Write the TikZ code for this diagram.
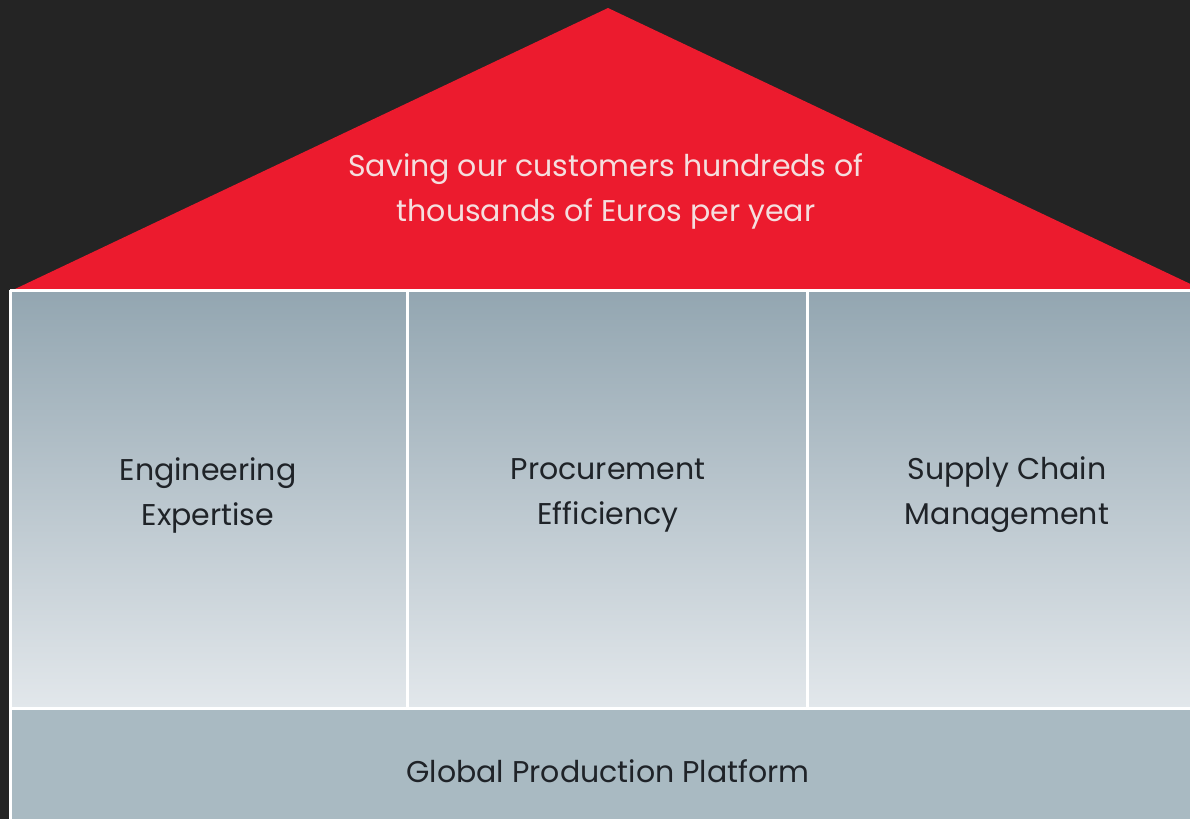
\documentclass[tikz,border=0pt]{standalone}
\usepackage{fontspec}
\setmainfont{Poppins}
\usepackage{tikz}
\definecolor{bgdark}{HTML}{242424}
\definecolor{roofred}{HTML}{EC1B2E}
\definecolor{pillartop}{HTML}{93A6B1}
\definecolor{pillarbot}{HTML}{E2E7EB}
\definecolor{basegray}{HTML}{A9BAC2}
\definecolor{labeldark}{HTML}{1F2328}
\definecolor{rooftext}{HTML}{F5DEDE}
\tikzset{
    pillar/.style={top color=pillartop,bottom color=pillarbot,draw=none},
    divider/.style={white,line width=1.5pt},
    label/.style={align=center,text=labeldark,font=\fontsize{15}{22.5}\selectfont,inner sep=0pt},
    every label/.append style={black}
}

\begin{document}
\begin{tikzpicture}[x=0.5pt,y=-0.5pt]
    \useasboundingbox (0,0) rectangle (1190,819);
    \fill[bgdark] (0,0) rectangle (1190,819);
    % roof
    \fill[roofred] (15,289) -- (608,8) -- (1201,289) -- cycle;
    \node[label,text=rooftext] (roof) at (606,191) {Saving our customers hundreds of\\thousands of Euros per year};
    % pillars
    \shade[pillar] (10,291) rectangle (407,707);
    \shade[pillar] (407,291) rectangle (807,707);
    \shade[pillar] (807,291) rectangle (1190,707);
    \fill[basegray] (10,707) rectangle (1190,819);
    \draw[divider] (10,290) -- (1190,290);
    \draw[divider] (10,708) -- (1190,708);
    \draw[divider] (407,290) -- (407,708);
    \draw[divider] (807,290) -- (807,708);
    \draw[divider] (10,290) -- (10,819);
    \node[label] (eng) at (208,495) {Engineering\\Expertise};
    \node[label] (proc) at (608,495) {Procurement\\Efficiency};
    \node[label] (scm) at (1007,495) {Supply Chain\\Management};
    % base
    \node[label] (base) at (608,771) {Global Production Platform};
\end{tikzpicture}
\end{document}
